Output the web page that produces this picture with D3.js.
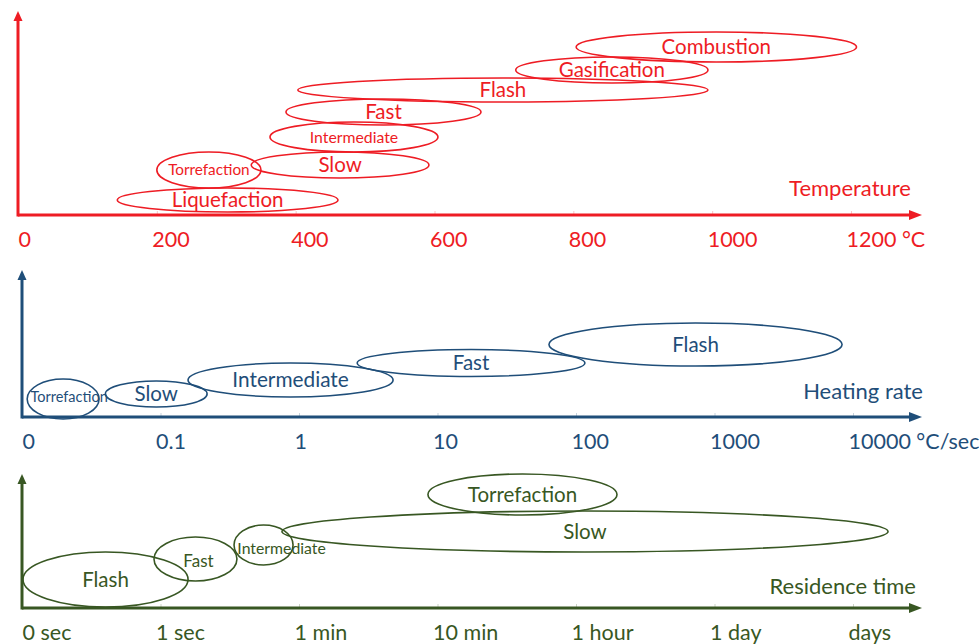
<!DOCTYPE html>
<html><head><meta charset="utf-8">
<script src="https://cdn.jsdelivr.net/npm/d3@7"></script>
<style>
body{margin:0;background:#fff}
svg text{font-family:Lato,"Open Sans",sans-serif}
</style>
</head><body>
<svg id="c" width="979" height="644"></svg>
<script>
// ---------- Temperature panel (°C) ----------
const tempTicks = [0, 200, 400, 600, 800, 1000, 1200];
const tempTickLabels = ["0", "200", "400", "600", "800", "1000", "1200 °C"];
const tempNames = ["Liquefaction", "Torrefaction", "Slow", "Intermediate", "Fast", "Flash", "Gasification", "Combustion"];
const tempLow   = [143, 200, 336, 363, 386, 403, 717, 804];
const tempHigh  = [461, 350, 592, 605, 667, 994, 994, 1208];
const tempLevel = [7.5, 22.5, 25, 39, 51.5, 62.5, 72.5, 84];
const tempHalf  = [6, 9, 6.5, 7.5, 6.5, 6, 6.5, 7.5];

// ---------- Heating rate panel (°C/sec, log) ----------
const rateTicks = [0.01, 0.1, 1, 10, 100, 1000, 10000];
const rateTickLabels = ["0", "0.1", "1", "10", "100", "1000", "10000 °C/sec"];
const rateNames = ["Torrefaction", "Slow", "Intermediate", "Fast", "Flash"];
const rateLow   = [0.0109, 0.040, 0.158, 2.63, 63.8];
const rateHigh  = [0.036, 0.217, 4.78, 116, 8340];
const rateLevel = [9, 11.5, 18.5, 27, 36.25];
const rateHalf  = [10, 6.5, 8.5, 6.75, 10.75];

// ---------- Residence time panel (ordered time steps) ----------
const timeTicks = [0, 1, 2, 3, 4, 5, 6];
const timeTickLabels = ["0 sec", "1 sec", "1 min", "10 min", "1 hour", "1 day", "days"];
const timeNames = ["Flash", "Fast", "Intermediate", "Slow", "Torrefaction"];
const timeLow   = [0.007, 0.953, 1.531, 1.877, 2.931];
const timeHigh  = [1.199, 1.552, 1.957, 6.253, 4.296];
const timeLevel = [14.25, 24.5, 31.5, 38.25, 56.75];
const timeHalf  = [13.75, 11, 10, 10.25, 10.25];

// ---------- styles ----------
const BIG = 20.5;
const TICK_FONT = 21.5;
const TITLE_FONT = 22;
const labelStyle = {
  temp: {Torrefaction: {size: 15.3}, Intermediate: {size: 15.8}},
  rate: {Torrefaction: {size: 14.5, dx: 6, dy: -2}, Intermediate: {size: 20.8}},
  time: {Fast: {size: 17, dx: 3, dy: 2.5}, Intermediate: {size: 15.8, dx: 18, dy: 3.5}}
};

const svg = d3.select("#c");

function rows(names, lo, hi, lev, half) {
  return names.map((n, i) => ({name: n, lo: lo[i], hi: hi[i], level: lev[i], half: half[i]}));
}

const panels = [
  {key: "temp", color: "#ee1c24", x: d3.scaleLinear().domain([0, 1200]).range([18, 851]),
   ticks: tempTicks, tickLabels: tempTickLabels, axisY: 215, topY: 11, x0: 18,
   title: "Temperature", titleX: 911, titleY: 195.5,
   items: rows(tempNames, tempLow, tempHigh, tempLevel, tempHalf)},
  {key: "rate", color: "#1f4e79", x: d3.scaleLog().domain([0.01, 10000]).range([22, 853]),
   ticks: rateTicks, tickLabels: rateTickLabels, axisY: 417, topY: 270, x0: 22,
   title: "Heating rate", titleX: 923, titleY: 398.5,
   items: rows(rateNames, rateLow, rateHigh, rateLevel, rateHalf)},
  {key: "time", color: "#385723", x: d3.scaleLinear().domain([0, 6]).range([22, 853]),
   ticks: timeTicks, tickLabels: timeTickLabels, axisY: 608, topY: 474, x0: 22,
   title: "Residence time", titleX: 916, titleY: 593.5,
   items: rows(timeNames, timeLow, timeHigh, timeLevel, timeHalf)}
];

panels.forEach(p => {
  const g = svg.append("g");
  const y = d3.scaleLinear().domain([0, 100]).range([p.axisY, p.axisY - 200]);

  // x axis: faint ticks above the line, labels below
  const axis = d3.axisBottom(p.x)
    .tickValues(p.ticks)
    .tickSizeInner(-4).tickSizeOuter(0)
    .tickPadding(17)
    .tickFormat((d, i) => p.tickLabels[i]);
  const ag = g.append("g").attr("transform", `translate(0,${p.axisY})`).call(axis);
  ag.select(".domain").remove();
  ag.selectAll(".tick line").attr("stroke", p.color).attr("stroke-opacity", 0.25).attr("stroke-width", 1);
  ag.selectAll(".tick text")
    .attr("fill", p.color)
    .attr("font-size", TICK_FONT)
    .attr("font-family", "Lato, 'Open Sans', sans-serif")
    .attr("text-anchor", "start")
    .attr("dx", (d, i) => i === 0 ? 0 : -5);

  // main axis lines with arrowheads
  const xEnd = 911;
  g.append("line").attr("x1", p.x0).attr("x2", xEnd).attr("y1", p.axisY).attr("y2", p.axisY)
    .attr("stroke", p.color).attr("stroke-width", 3);
  g.append("path").attr("d", `M${xEnd - 2},${p.axisY - 5}L${xEnd + 11},${p.axisY}L${xEnd - 2},${p.axisY + 5}Z`)
    .attr("fill", p.color);
  g.append("line").attr("x1", p.x0).attr("x2", p.x0).attr("y1", p.axisY + 1.5).attr("y2", p.topY + 8)
    .attr("stroke", p.color).attr("stroke-width", 3);
  g.append("path").attr("d", `M${p.x0 - 4.5},${p.topY + 10}L${p.x0},${p.topY}L${p.x0 + 4.5},${p.topY + 10}Z`)
    .attr("fill", p.color);

  // axis title
  g.append("text").attr("x", p.titleX).attr("y", p.titleY).attr("text-anchor", "end")
    .attr("fill", p.color).attr("font-size", TITLE_FONT).text(p.title);

  // process ellipses
  const styles = labelStyle[p.key];
  const st = d => styles[d.name] || {};
  const eg = g.selectAll("g.item").data(p.items).join("g").attr("class", "item");
  eg.append("ellipse")
    .attr("cx", d => (p.x(d.lo) + p.x(d.hi)) / 2)
    .attr("cy", d => y(d.level))
    .attr("rx", d => (p.x(d.hi) - p.x(d.lo)) / 2)
    .attr("ry", d => y(0) - y(d.half))
    .attr("fill", "none").attr("stroke", p.color).attr("stroke-width", 1.6);
  eg.append("text")
    .attr("x", d => (p.x(d.lo) + p.x(d.hi)) / 2 + (st(d).dx || 0))
    .attr("y", d => y(d.level) + (st(d).dy || 0))
    .attr("dy", "0.35em")
    .attr("text-anchor", "middle")
    .attr("fill", p.color)
    .attr("font-size", d => st(d).size || BIG)
    .text(d => d.name);
});
</script>
</body></html>
